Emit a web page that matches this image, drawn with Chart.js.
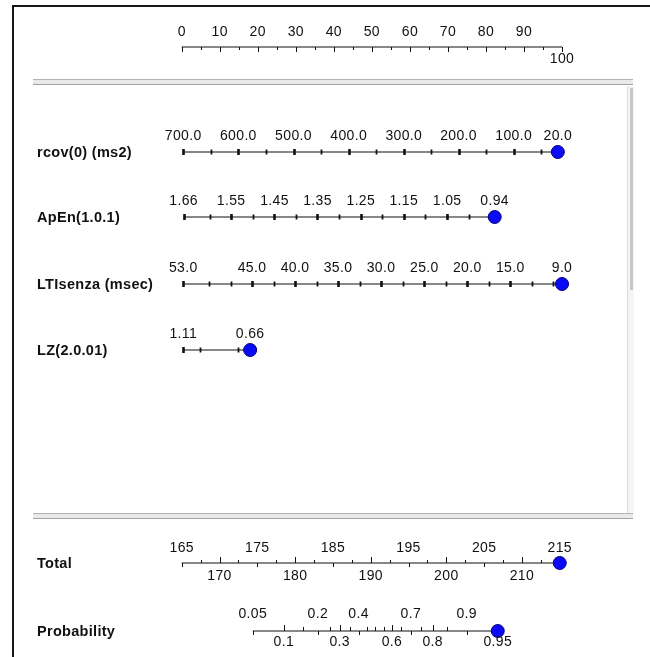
<!DOCTYPE html>
<html>
<head>
<meta charset="utf-8">
<script src="https://cdn.jsdelivr.net/npm/chart.js@4.4.1/dist/chart.umd.min.js"></script>
<style>
  body { margin: 0; background: #fff; }
  #wrap { position: relative; width: 650px; height: 657px; overflow: hidden; background: #fff; }
  #wrap canvas { position: absolute; left: 0; top: 0; }
  .frame { position: absolute; left: 12px; top: 5px; width: 700px; height: 700px;
           border-left: 2px solid #151515; border-top: 2px solid #151515; }
  .bar { position: absolute; left: 33px; width: 600px; height: 4px;
         background: #e9e9e9; border-top: 1px solid #b4b4b4; border-bottom: 1px solid #a2a2a2; }
  .track { position: absolute; left: 627px; top: 86px; width: 6px; height: 427px;
           background: #f5f5f5; border-left: 1px solid #dcdcdc; }
  .thumb { position: absolute; left: 630px; top: 88px; width: 3px; height: 202px; background: #c6c6c6; }
</style>
</head>
<body>
<div id="wrap">
  <div class="frame"></div>
  <div class="bar" style="top:79px"></div>
  <div class="bar" style="top:513px"></div>
  <div class="track"></div>
  <div class="thumb"></div>
  <canvas id="nomo" width="650" height="657"></canvas>
</div>
<script>
// ─── DATA ────────────────────────────────────────────────────────────────────
// every variable is placed on the 0-100 "Points" scale
const pointsMajor = [0, 10, 20, 30, 40, 50, 60, 70, 80, 90, 100];
const pointsMinor = [5, 15, 25, 35, 45, 55, 65, 75, 85, 95];

const rcovLabels   = ['700.0', '600.0', '500.0', '400.0', '300.0', '200.0', '100.0', '20.0'];
const rcovPts      = [0.4, 14.9, 29.4, 43.9, 58.4, 72.8, 87.3, 98.9];
const rcovMinorPts = [7.6, 22.1, 36.6, 51.1, 65.6, 80.1, 94.6];

const apenLabels   = ['1.66', '1.55', '1.45', '1.35', '1.25', '1.15', '1.05', '0.94'];
const apenPts      = [0.5, 13.0, 24.4, 35.7, 47.1, 58.4, 69.8, 82.3];
const apenMinorPts = [7.4, 18.7, 30.1, 41.4, 52.8, 64.1, 75.5];

const ltiLabels    = ['53.0', '45.0', '40.0', '35.0', '30.0', '25.0', '20.0', '15.0', '9.0'];
const ltiPts       = [0.4, 18.5, 29.8, 41.1, 52.4, 63.8, 75.1, 86.4, 100];
const ltiMinorPts  = [7.2, 12.9, 24.2, 35.5, 46.8, 58.1, 69.4, 80.7, 92.1, 97.7];

const lzLabels     = ['1.11', '0.66'];
const lzPts        = [0.4, 18.0];
const lzMinorPts   = [4.8, 14.9];

// Total points scale
const totalUpper = [165, 175, 185, 195, 205, 215];
const totalLower = [170, 180, 190, 200, 210];
const totalMinor = [167.5, 172.5, 177.5, 182.5, 187.5, 192.5, 197.5, 202.5, 207.5, 212.5];

// Probability, positioned on the Total scale
const probUpper    = ['0.05', '0.2', '0.4', '0.7', '0.9'];
const probUpperAt  = [174.4, 183.0, 188.4, 195.3, 202.7];
const probLower    = ['0.1', '0.3', '0.6', '0.8', '0.95'];
const probLowerAt  = [178.5, 185.9, 192.8, 198.2, 206.8];
const probMinorAt  = [181.1, 184.6, 187.2, 189.5, 190.6, 191.7, 194.0, 196.6, 200.1];

// selected patient
const selRcov = 98.9, selApen = 82.3, selLti = 100, selLz = 18.0;
const selTotal = 215, selProb = 206.8;

// ─── LAYOUT ──────────────────────────────────────────────────────────────────
const rowY = { points: 47, rcov: 152, apen: 217, lti: 284, lz: 350, total: 563, prob: 631 };
const names = [
  ['rcov(0) (ms2)', 'rcov'], ['ApEn(1.0.1)', 'apen'], ['LTIsenza (msec)', 'lti'],
  ['LZ(2.0.01)', 'lz'], ['Total', 'total'], ['Probability', 'prob'],
];
const TICK_FONT = '14px "Liberation Sans", Arial, sans-serif';
const NAME_FONT = 'bold 14.5px "Liberation Sans", Arial, sans-serif';
const INK = '#111';

// mark = { at, y0, y1, w }, label = { at, text, dy }
function varAxis(row, labels, pts, minor) {
  return {
    row, scale: 'x',
    marks: [
      ...pts.map(p => ({ at: p, y0: -3, y1: 3, w: 2.6 })),
      ...minor.map(p => ({ at: p, y0: -2.5, y1: 2.5, w: 1.8 })),
    ],
    labels: labels.map((t, i) => ({ at: pts[i], text: t, dy: -15.5 })),
  };
}

const axes = [
  {
    row: 'points', scale: 'x',
    marks: [
      ...pointsMajor.map(p => ({ at: p, y0: 0, y1: 5, w: 1 })),
      ...pointsMinor.map(p => ({ at: p, y0: 0, y1: 3, w: 1 })),
    ],
    labels: pointsMajor.map(p => ({ at: p, text: String(p), dy: p === 100 ? 12.5 : -14.5 })),
  },
  varAxis('rcov', rcovLabels, rcovPts, rcovMinorPts),
  varAxis('apen', apenLabels, apenPts, apenMinorPts),
  varAxis('lti', ltiLabels, ltiPts, ltiMinorPts),
  varAxis('lz', lzLabels, lzPts, lzMinorPts),
  {
    row: 'total', scale: 'xt',
    marks: [
      ...totalUpper.map(v => ({ at: v, y0: 0, y1: 4, w: 1 })),
      ...totalLower.map(v => ({ at: v, y0: -6, y1: 0, w: 1 })),
      ...totalMinor.map(v => ({ at: v, y0: -3, y1: 0, w: 1 })),
    ],
    labels: [
      ...totalUpper.map(v => ({ at: v, text: String(v), dy: -14.5 })),
      ...totalLower.map(v => ({ at: v, text: String(v), dy: 13.5 })),
    ],
  },
  {
    row: 'prob', scale: 'xt',
    marks: [
      ...probUpperAt.map(v => ({ at: v, y0: 0, y1: 4, w: 1 })),
      ...probLowerAt.map(v => ({ at: v, y0: -6, y1: 0, w: 1 })),
      ...probMinorAt.map(v => ({ at: v, y0: -4, y1: 0, w: 1 })),
    ],
    labels: [
      ...probUpper.map((t, i) => ({ at: probUpperAt[i], text: t, dy: -16.5 })),
      ...probLower.map((t, i) => ({ at: probLowerAt[i], text: t, dy: 11.5 })),
    ],
  },
];

// ─── DATASETS ────────────────────────────────────────────────────────────────
function axisLine(row, from, to, scale) {
  return {
    data: [{ x: from, y: rowY[row] }, { x: to, y: rowY[row] }],
    xAxisID: scale, showLine: true, borderColor: INK, borderWidth: 1.2,
    pointRadius: 0, order: 2, clip: false,
  };
}
function dot(row, at, scale) {
  return {
    data: [{ x: at, y: rowY[row] }], xAxisID: scale,
    pointRadius: 6.5, pointBackgroundColor: '#0a0af5', pointBorderColor: '#00007a',
    pointBorderWidth: 1, order: 1, clip: false,
  };
}

const datasets = [
  axisLine('points', pointsMajor[0], pointsMajor[pointsMajor.length - 1], 'x'),
  axisLine('rcov', rcovPts[0], rcovPts[rcovPts.length - 1], 'x'),
  axisLine('apen', apenPts[0], apenPts[apenPts.length - 1], 'x'),
  axisLine('lti', ltiPts[0], ltiPts[ltiPts.length - 1], 'x'),
  axisLine('lz', lzPts[0], lzPts[lzPts.length - 1], 'x'),
  axisLine('total', totalUpper[0], totalUpper[totalUpper.length - 1], 'xt'),
  axisLine('prob', probUpperAt[0], probLowerAt[probLowerAt.length - 1], 'xt'),
  dot('rcov', selRcov, 'x'),
  dot('apen', selApen, 'x'),
  dot('lti', selLti, 'x'),
  dot('lz', selLz, 'x'),
  dot('total', selTotal, 'xt'),
  dot('prob', selProb, 'xt'),
];

// ─── TICKS, LABELS, NAMES ────────────────────────────────────────────────────
const nomoAxes = {
  id: 'nomoAxes',
  beforeDatasetsDraw(chart) {
    const ctx = chart.ctx, ys = chart.scales.y;
    ctx.save();
    ctx.strokeStyle = INK;
    for (const ax of axes) {
      const sc = chart.scales[ax.scale];
      const y = ys.getPixelForValue(rowY[ax.row]);
      for (const m of ax.marks) {
        const x = Math.round(sc.getPixelForValue(m.at)) + 0.5;
        ctx.lineWidth = m.w;
        ctx.beginPath(); ctx.moveTo(x, y + m.y0); ctx.lineTo(x, y + m.y1); ctx.stroke();
      }
    }
    ctx.restore();
  },
  afterDatasetsDraw(chart) {
    const ctx = chart.ctx, ys = chart.scales.y;
    ctx.save();
    ctx.fillStyle = INK;
    ctx.textAlign = 'center'; ctx.textBaseline = 'middle';
    ctx.font = TICK_FONT;
    ctx.letterSpacing = '0.35px';
    for (const ax of axes) {
      const sc = chart.scales[ax.scale];
      const y = ys.getPixelForValue(rowY[ax.row]);
      for (const l of ax.labels) ctx.fillText(l.text, sc.getPixelForValue(l.at), y + l.dy);
    }
    ctx.textAlign = 'left'; ctx.font = NAME_FONT;
    ctx.letterSpacing = '0.3px';
    for (const [txt, row] of names) ctx.fillText(txt, 37, ys.getPixelForValue(rowY[row]) + 1);
    ctx.restore();
  },
};

new Chart(document.getElementById('nomo'), {
  type: 'scatter',
  data: { datasets },
  options: {
    responsive: false, animation: false, events: [],
    layout: { autoPadding: false, padding: { left: 181.7, right: 88, top: 0, bottom: 0 } },
    plugins: { legend: { display: false }, tooltip: { enabled: false } },
    scales: {
      x:  { type: 'linear', min: 0, max: 100, display: false },
      xt: { type: 'linear', axis: 'x', min: 165, max: 215.3, display: false },
      y:  { type: 'linear', min: 0, max: 657, reverse: true, display: false },
    },
  },
  plugins: [nomoAxes],
});
</script>
</body>
</html>
